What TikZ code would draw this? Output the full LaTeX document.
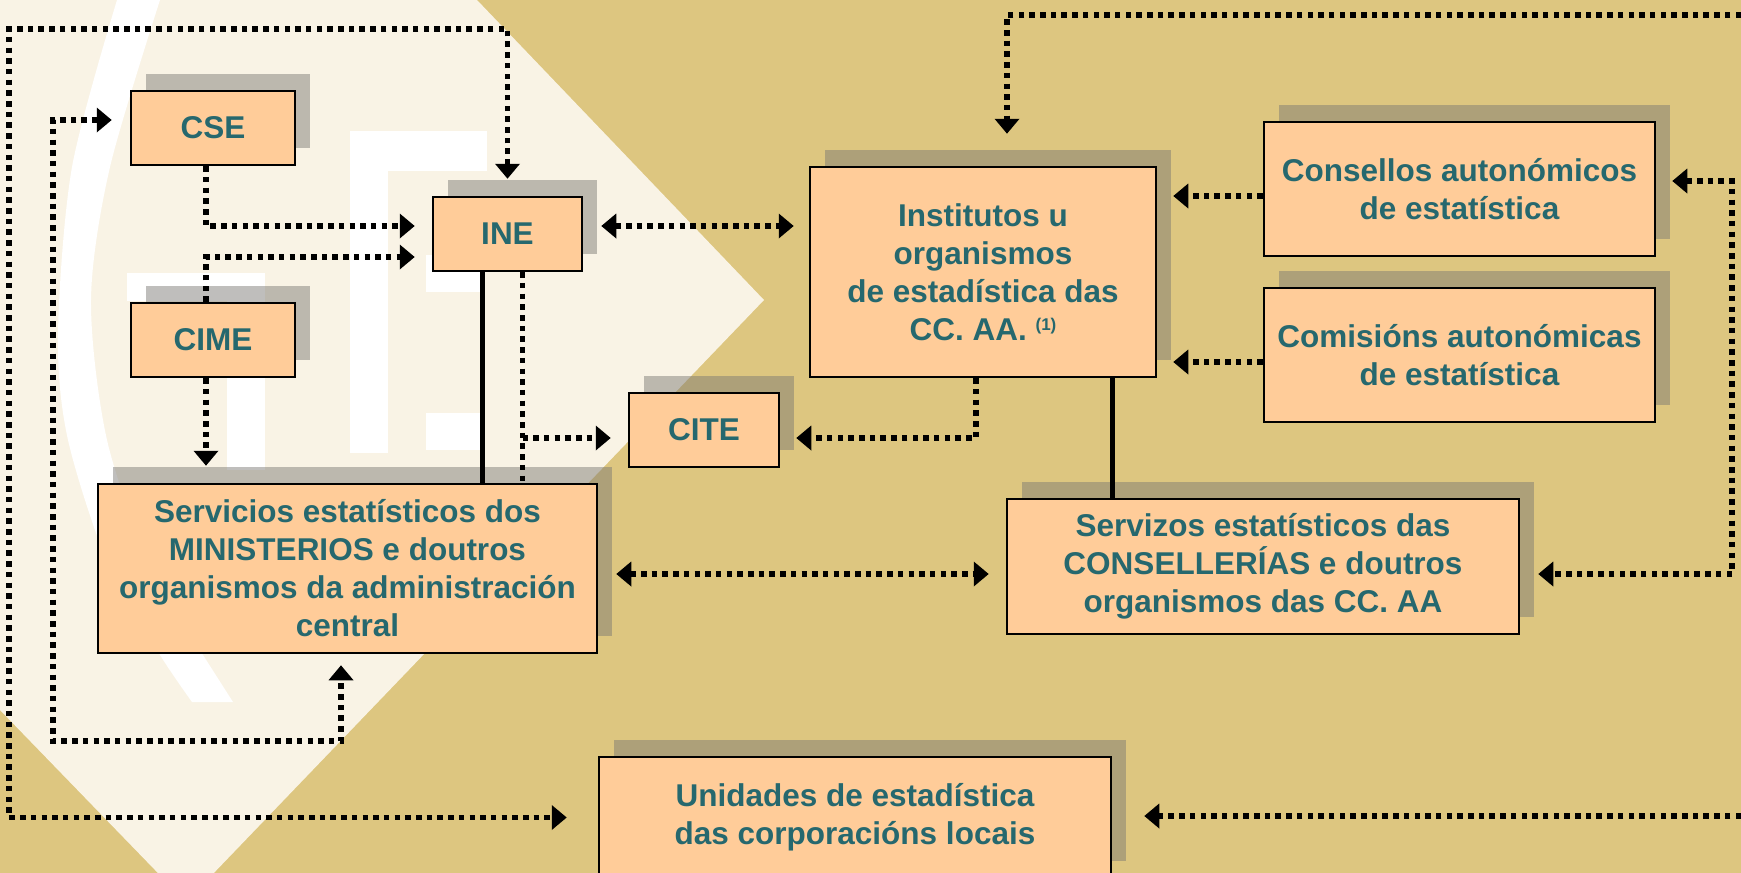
\documentclass[tikz,border=0pt]{standalone}
\usepackage{fontspec}
\setmainfont{Liberation Sans}
\usepackage{tikz}
\usetikzlibrary{shadows}
\usetikzlibrary{arrows.meta}

\definecolor{fondo}{RGB}{221,198,128}
\definecolor{crema}{RGB}{249,243,229}
\definecolor{pexego}{RGB}{255,204,153}
\definecolor{verdemar}{RGB}{38,104,110}
\definecolor{sombra}{RGB}{122,120,115}

\begin{document}
\begin{tikzpicture}[x=1pt,y=-1pt,>={Triangle[length=15pt,width=24pt]},
	caixa/.style={rectangle,draw,line width=2.5pt,fill=pexego,text=verdemar,
		font=\bfseries\fontsize{31.5}{38}\selectfont,align=center,inner sep=0pt,
		drop shadow={shadow xshift=15pt,shadow yshift=17pt,opacity=0.48,fill=sombra}},
	punteado/.style={line width=5.5pt,dash pattern=on 5.5pt off 5.2pt},
	trazo/.style={line width=5pt}]
	
	\useasboundingbox (0,0) rectangle (1741,873);
	\clip (0,0) rectangle (1741,873);
	
	% fondo
	\fill[fondo] (0,0) rectangle (1741,873);
	\fill[crema] (0,0) -- (477,0) -- (764,300) -- (186,902) -- (0,710) -- cycle;
	% logo
	\fill[white] plot[smooth] coordinates {(117,0) (72,167) (58,334) (68,440) (110,570) (160,655) (192,702)}
		-- (233,702) -- plot[smooth] coordinates {(203,655) (152,570) (107,440) (91,300) (110,167) (160,0)} -- cycle;
	\fill[white] (350,131) rectangle (388,453);
	\fill[white] (350,131) rectangle (487,171);
	\fill[white] (426,255) rectangle (480,292);
	\fill[white] (426,413) rectangle (480,450);
	\fill[white] (127,273) rectangle (265,301);
	\fill[white] (227,273) rectangle (265,470);
	
	% caixas
	\node[caixa,minimum width=164pt,minimum height=74pt] (cse) at (213,128) {CSE};
	\node[caixa,minimum width=164pt,minimum height=74pt] (cime) at (213,340) {CIME};
	\node[caixa,minimum width=149pt,minimum height=74pt] (ine) at (507.5,234) {INE};
	\node[caixa,minimum width=150pt,minimum height=74pt] (cite) at (704,430) {CITE};
	\node[caixa,minimum width=499pt,minimum height=169pt] (servicios) at (347.5,568.5)
		{Servicios estatísticos dos\\MINISTERIOS e doutros\\organismos da administración\\central};
	\node[caixa,minimum width=346pt,minimum height=210pt] (institutos) at (983,272)
		{Institutos u\\organismos\\de estadística das\\CC. AA. {\fontsize{17}{17}\selectfont\raisebox{10pt}{(1)}}};
	\node[caixa,minimum width=391pt,minimum height=134pt] (consellos) at (1459.5,189)
		{Consellos autonómicos\\de estatística};
	\node[caixa,minimum width=391pt,minimum height=134pt] (comisions) at (1459.5,355)
		{Comisións autonómicas\\de estatística};
	\node[caixa,minimum width=512pt,minimum height=135pt] (servizos) at (1263,566.5)
		{Servizos estatísticos das\\CONSELLERÍAS e doutros\\organismos das CC. AA};
	\node[caixa,minimum width=512pt,minimum height=121pt] (unidades) at (855,817.5)
		{Unidades de estadística\\das corporacións locais};
	
	% puntos de paso
	\coordinate (esqsup) at (9,29);
	\coordinate (esqint) at (53,741);
	\coordinate (dersup) at (1741,15);
	\coordinate (derinf) at (1741,816);
	\coordinate (derlat) at (1732,574);
	\coordinate (csel) at ([yshift=8pt]cse.west);
	\coordinate (cses) at ([xshift=-7pt]cse.south);
	\coordinate (cimen) at ([xshift=-7pt]cime.north);
	\coordinate (cimes) at ([xshift=-7pt]cime.south);
	\coordinate (inew1) at ([yshift=8pt]ine.west);
	\coordinate (inew2) at ([yshift=-23pt]ine.west);
	\coordinate (inee) at ([yshift=8pt]ine.east);
	\coordinate (inesa) at ([xshift=-25pt]ine.south);
	\coordinate (inesb) at ([xshift=15pt]ine.south);
	\coordinate (citew) at ([yshift=-8pt]cite.west);
	\coordinate (citee) at ([yshift=-8pt]cite.east);
	\coordinate (smsb) at ([xshift=-6.5pt]servicios.south);
	\coordinate (smse) at ([yshift=-5.5pt]servicios.east);
	\coordinate (instn) at ([xshift=24pt]institutos.north);
	\coordinate (insts) at ([xshift=-7pt]institutos.south);
	\coordinate (instsb) at ([xshift=129pt]institutos.south);
	\coordinate (consw) at ([yshift=-7pt]consellos.west);
	\coordinate (conse) at ([yshift=8pt]consellos.east);
	\coordinate (comiw) at ([yshift=-7pt]comisions.west);
	\coordinate (scone) at ([yshift=-7.5pt]servizos.east);
	
	% conexions
	\draw[punteado,<->,shorten <=17pt,shorten >=31pt] (ine.north) |- (esqsup) |- (unidades.west);
	\draw[punteado,<->,shorten <=18pt,shorten >=11pt] (csel) -| (esqint) -| (smsb);
	\draw[punteado,->,shorten >=17pt] (cses) |- (inew1);
	\draw[punteado,->,shorten >=17pt] (cimen) |- (inew2);
	\draw[punteado,->,shorten >=17pt] (cimes) -- (cimes |- servicios.north);
	\draw[punteado,<->,shorten <=18pt,shorten >=15pt] (inee) -- (inee -| institutos.west);
	\draw[trazo] (inesa) -- (inesa |- servicios.north);
	\draw[punteado] (inesb) -- (inesb |- servicios.north);
	\draw[punteado,->,shorten >=17pt] (inesb |- citew) -- (citew);
	\draw[punteado,->,shorten >=16pt] (insts) |- (citee);
	\draw[trazo] (instsb) -- (instsb |- servizos.north);
	\draw[punteado,->,shorten >=16pt] (consw) -- (consw -| institutos.east);
	\draw[punteado,->,shorten >=16pt] (comiw) -- (comiw -| institutos.east);
	\draw[punteado,<->,shorten <=16pt,shorten >=18pt] (conse) -| (derlat) -- (scone);
	\draw[punteado,->,shorten >=32pt] (dersup) -| (instn);
	\draw[punteado,<->,shorten <=18pt,shorten >=17pt] (smse) -- (smse -| servizos.west);
	\draw[punteado,->,shorten >=32pt] (derinf) -- (derinf -| unidades.east);
\end{tikzpicture}
\end{document}
